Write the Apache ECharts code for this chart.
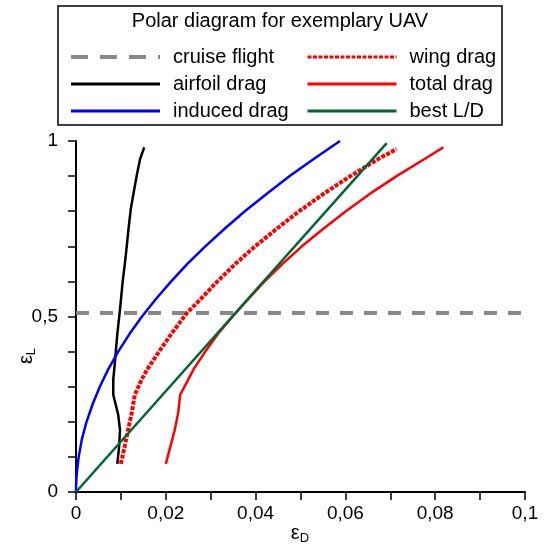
<!DOCTYPE html>
<html>
<head>
<meta charset="utf-8">
<script src="https://cdn.jsdelivr.net/npm/echarts@6/dist/echarts.min.js"></script>
<style>
html, body { margin: 0; padding: 0; background: #fff; }
#charts { width: 544px; height: 548px; }
</style>
</head>
<body>
<div id="charts"></div>
<script>
// values, [eps_D, eps_L]
var cruiseFlight = [[0, 0.51], [0.1, 0.51]];
var airfoilDrag = [[0.0092, 0.08], [0.0096, 0.129], [0.0098, 0.177], [0.0094, 0.22], [0.0083, 0.277],
	[0.0083, 0.32], [0.0086, 0.36], [0.0089, 0.406], [0.0092, 0.45], [0.0098, 0.52], [0.0104, 0.6],
	[0.0109, 0.653], [0.0113, 0.7], [0.0117, 0.75], [0.0122, 0.806], [0.0128, 0.85], [0.0135, 0.9],
	[0.0143, 0.95], [0.0152, 0.982]];
var inducedDrag = [[0, 0], [0.00002, 0.02], [0.00015, 0.05], [0.0006, 0.1], [0.0013, 0.15], [0.00235, 0.2],
	[0.0037, 0.25], [0.0053, 0.3], [0.0072, 0.35], [0.0094, 0.4], [0.0119, 0.45], [0.0147, 0.5],
	[0.0178, 0.55], [0.0212, 0.6], [0.0248, 0.65], [0.0288, 0.7], [0.0331, 0.75], [0.0376, 0.8],
	[0.0425, 0.85], [0.0476, 0.9], [0.0531, 0.95], [0.0588, 1.0]];
var wingDrag = [[0.0100, 0.08], [0.0113, 0.158], [0.0124, 0.225], [0.0131, 0.277], [0.0146, 0.32],
	[0.0159, 0.35], [0.0185, 0.4], [0.0212, 0.45], [0.0247, 0.51], [0.0278, 0.55], [0.0315, 0.6],
	[0.0355, 0.65], [0.0399, 0.7], [0.0447, 0.75], [0.0497, 0.8], [0.0552, 0.85], [0.0611, 0.9],
	[0.0675, 0.95], [0.0714, 0.977]];
var totalDrag = [[0.0200, 0.08], [0.0220, 0.177], [0.0228, 0.229], [0.0232, 0.277], [0.025, 0.32],
	[0.0262, 0.35], [0.0288, 0.4], [0.0316, 0.45], [0.0349, 0.5], [0.0384, 0.55], [0.042, 0.6],
	[0.046, 0.65], [0.0503, 0.7], [0.0551, 0.75], [0.0601, 0.8], [0.0655, 0.85], [0.0714, 0.9],
	[0.0778, 0.95], [0.0818, 0.982]];
var bestLD = [[0, 0], [0.0692, 0.994]];

var xTickLabels = ['0', '0,02', '0,04', '0,06', '0,08', '0,1'];
var yTickLabels = ['0', '0,5', '1'];

var FONT = '"Liberation Sans", Arial, sans-serif';

var myChart = echarts.init(document.getElementById('charts'));

function lineSeries(name, data, color, width, type) {
	return {
		name: name,
		type: 'line',
		data: data,
		symbol: 'none',
		animation: false,
		lineStyle: { color: color, width: width, type: type || 'solid', cap: 'butt', join: 'round' },
		itemStyle: { color: color }
	};
}

function legendItem(name, width, type) {
	return { name: name, lineStyle: { width: width, type: type || 'solid' } };
}

var legendBase = {
	orient: 'vertical',
	top: 42,
	itemWidth: 89, itemHeight: 14, itemGap: 7,
	itemStyle: { opacity: 0 },
	textStyle: { fontFamily: FONT, fontSize: 20, color: '#000', lineHeight: 20, padding: [0, 0, 0, 8] }
};

var option = {
	backgroundColor: '#fff',
	animation: false,
	grid: { left: 76, right: 19, top: 141, bottom: 56, containLabel: false, outerBoundsMode: 'none' },
	legend: [
		echarts.util.merge({ data: [legendItem('cruise flight', 4, [17, 12]), legendItem('airfoil drag', 3),
			legendItem('induced drag', 3)], left: 64 }, legendBase),
		echarts.util.merge({ data: [legendItem('wing drag', 3, [4, 1.5]), legendItem('total drag', 3),
			legendItem('best L/D', 3)], left: 301 }, legendBase)
	],
	graphic: [{
		type: 'rect',
		shape: { x: 58, y: 6, width: 444, height: 119 },
		style: { fill: 'none', stroke: '#000', lineWidth: 1.5 },
		z: 1
	}, {
		type: 'text',
		x: 280, y: 21,
		style: { text: 'Polar diagram for exemplary UAV', font: '20px ' + FONT, fill: '#000',
			align: 'center', verticalAlign: 'middle' }
	}, {
		type: 'text',
		x: 26, y: 356,
		rotation: Math.PI / 2,
		style: {
			text: '{a|ε}{b|L}',
			align: 'center', verticalAlign: 'middle',
			rich: {
				a: { fontFamily: FONT, fontSize: 20, fill: '#000' },
				b: { fontFamily: FONT, fontSize: 13, fill: '#000', padding: [10, 0, 0, 0] }
			}
		}
	}, {
		type: 'text',
		x: 300, y: 533,
		style: {
			text: '{a|ε}{b|D}',
			align: 'center', verticalAlign: 'middle',
			rich: {
				a: { fontFamily: FONT, fontSize: 20, fill: '#000' },
				b: { fontFamily: FONT, fontSize: 13, fill: '#000', padding: [10, 0, 0, 0] }
			}
		}
	}],
	xAxis: {
		type: 'value', min: 0, max: 0.1, interval: 0.01,
		splitLine: { show: false },
		axisLine: { onZero: false, lineStyle: { color: '#000', width: 2 } },
		axisTick: { length: 8, lineStyle: { color: '#000', width: 1.5 } },
		axisLabel: {
			fontFamily: FONT, fontSize: 19, color: '#000', margin: 12,
			formatter: function (v) {
				var n = Math.round(v * 100);
				return n % 2 === 0 ? xTickLabels[n / 2] : '';
			}
		}
	},
	yAxis: {
		type: 'value', min: 0, max: 1, interval: 0.1,
		splitLine: { show: false },
		axisLine: { onZero: false, lineStyle: { color: '#000', width: 2 } },
		axisTick: { length: 8, lineStyle: { color: '#000', width: 1.5 } },
		axisLabel: {
			fontFamily: FONT, fontSize: 19, color: '#000', margin: 18,
			formatter: function (v) {
				var n = Math.round(v * 10);
				return n % 5 === 0 ? yTickLabels[n / 5] : '';
			}
		}
	},
	series: [
		lineSeries('cruise flight', cruiseFlight, '#888888', 4, [13, 11]),
		lineSeries('airfoil drag', airfoilDrag, '#000000', 2.5),
		lineSeries('induced drag', inducedDrag, '#0000ff', 2.5),
		lineSeries('wing drag', wingDrag, '#ff0000', 4, [4, 1.5]),
		lineSeries('total drag', totalDrag, '#ff0000', 2.5),
		lineSeries('best L/D', bestLD, '#006633', 2.5)
	]
};
myChart.setOption(option);
</script>
</body>
</html>
